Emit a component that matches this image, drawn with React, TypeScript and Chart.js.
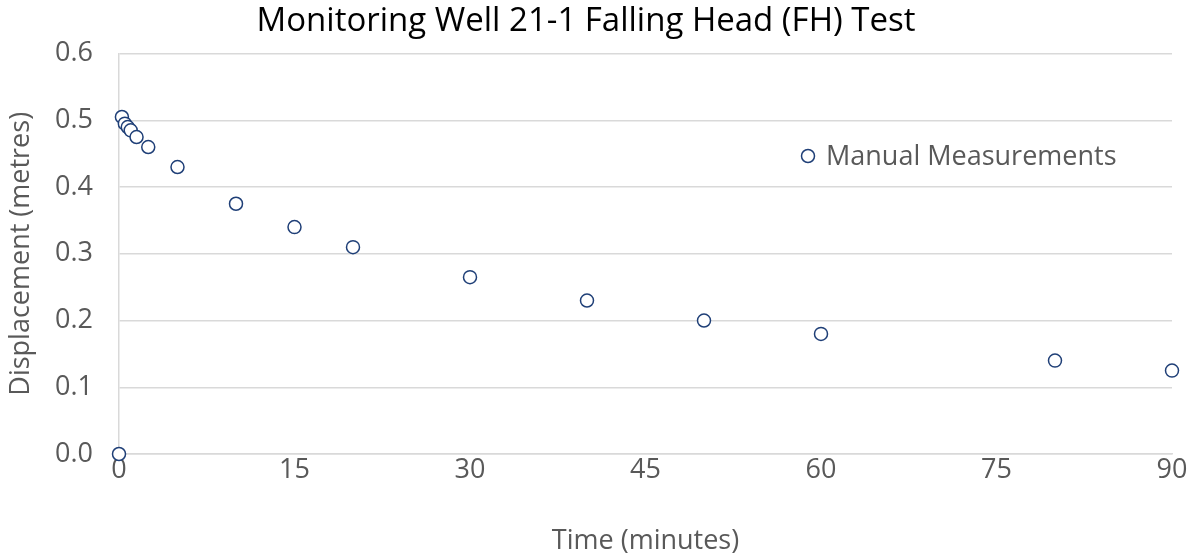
import React, { useEffect, useRef } from "react";
import { Chart, registerables } from "chart.js";

Chart.register(...registerables);

const timeMinutes = [0, 0.25, 0.5, 0.75, 1, 1.5, 2.5, 5, 10, 15, 20, 30, 40, 50, 60, 80, 90];
const displacement = [0, 0.505, 0.495, 0.49, 0.485, 0.475, 0.46, 0.43, 0.375, 0.34, 0.31, 0.265, 0.23, 0.2, 0.18, 0.14, 0.125];
const seriesLabel = "Manual Measurements";
const chartTitle = "Monitoring Well 21-1 Falling Head (FH) Test";
const xTitle = "Time (minutes)";
const yTitle = "Displacement (metres)";

const FONT = "'Open Sans', 'Noto Sans', sans-serif";
const TEXT = "#595959";
const MARK = "#1F3F77";

export default function App() {
  const ref = useRef<HTMLCanvasElement>(null);
  useEffect(() => {
    document.body.style.margin = "0";
    const ctx = ref.current!;
    const legendPlugin = {
      id: "inlineLegend",
      afterDraw(chart: any) {
        const c = chart.ctx;
        c.save();
        c.beginPath();
        c.arc(808, 156, 6.5, 0, Math.PI * 2);
        c.fillStyle = "#ffffff";
        c.fill();
        c.lineWidth = 1.5;
        c.strokeStyle = MARK;
        c.stroke();
        c.fillStyle = TEXT;
        c.font = `27px ${FONT}`;
        c.textBaseline = "middle";
        c.textAlign = "left";
        c.fillText(seriesLabel, 826, 157);
        c.restore();
      },
    };
    const chart = new Chart(ctx, {
      type: "scatter",
      data: {
        datasets: [
          {
            label: seriesLabel,
            data: timeMinutes.map((t, i) => ({ x: t, y: displacement[i] })),
            pointStyle: "circle",
            pointRadius: 6.5,
            pointHoverRadius: 6.5,
            pointBackgroundColor: "#ffffff",
            pointBorderColor: MARK,
            pointBorderWidth: 1.5,
            showLine: false,
            clip: false,
          },
        ],
      },
      options: {
        animation: false,
        responsive: false,
        layout: { padding: { left: 0, right: 25, top: 0, bottom: 0 } },
        plugins: {
          legend: { display: false },
          tooltip: { enabled: false },
          title: {
            display: true,
            text: chartTitle,
            color: "#000000",
            font: { family: FONT, size: 33, weight: "normal" },
            padding: { top: 2, bottom: 12 },
          },
        },
        scales: {
          x: {
            type: "linear",
            min: 0,
            max: 90,
            ticks: { stepSize: 15, color: TEXT, font: { family: FONT, size: 27 }, padding: 0 },
            grid: { display: false, drawTicks: false },
            border: { display: true, color: "#d9d9d9", width: 1.5 },
            title: { display: true, text: xTitle, color: TEXT, font: { family: FONT, size: 27 }, padding: { top: 12, bottom: 0 } },
            afterFit: (s: any) => { s.height = 104; },
          },
          y: {
            type: "linear",
            min: 0,
            max: 0.6,
            ticks: { stepSize: 0.1, color: TEXT, font: { family: FONT, size: 27 }, padding: 26, callback: (v: any) => Number(v).toFixed(1) },
            grid: { display: true, color: "#d9d9d9", lineWidth: 1.5, drawTicks: false },
            border: { display: true, color: "#d9d9d9", width: 1.5 },
            title: { display: true, text: yTitle, color: TEXT, font: { family: FONT, size: 27 }, padding: { top: 5, bottom: 0 } },
            afterFit: (s: any) => { s.width = 119; },
          },
        },
      },
      plugins: [legendPlugin],
    });
    return () => chart.destroy();
  }, []);
  return (
    <div style={{ position: "absolute", left: 0, top: 0, width: 1197, height: 558, background: "#fff" }}>
      <canvas ref={ref} width={1197} height={558} />
    </div>
  );
}
